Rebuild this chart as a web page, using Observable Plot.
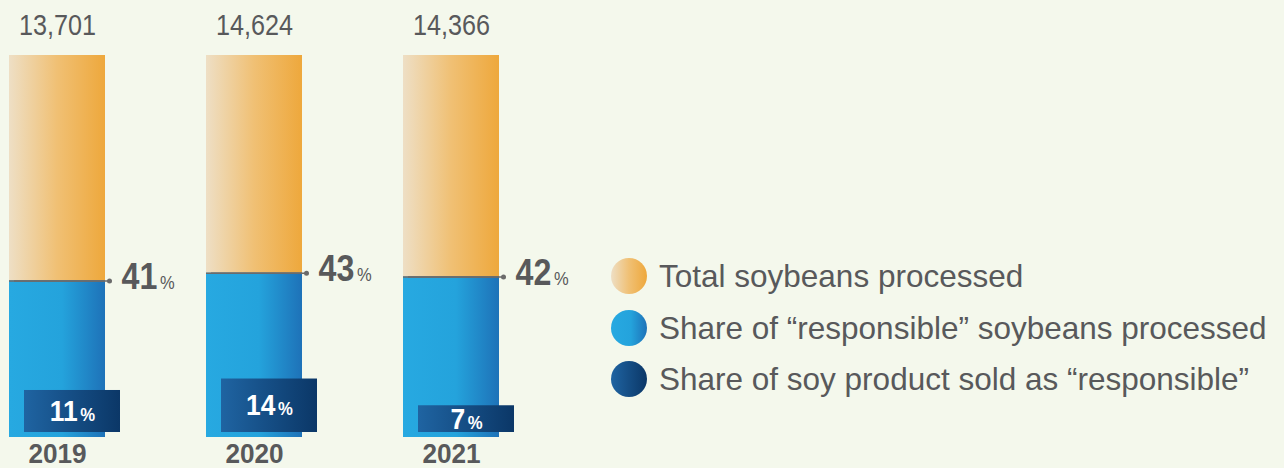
<!DOCTYPE html>
<html><head><meta charset="utf-8">
<script src="https://cdn.jsdelivr.net/npm/d3@7"></script>
<script src="https://cdn.jsdelivr.net/npm/@observablehq/plot@0.6"></script>
<style>
html,body{margin:0;padding:0;background:#F4F8EC;width:1284px;height:468px;overflow:hidden;}
#wrap{position:relative;width:1284px;height:468px;}
#chart{position:absolute;left:0;top:0;}
.legend{position:absolute;left:611px;top:0;font-family:"Liberation Sans",Arial,sans-serif;font-size:31.5px;color:#58595B;}
.row{position:absolute;left:0;display:flex;align-items:center;white-space:nowrap;height:40px;}
.sw{width:36px;height:36px;border-radius:50%;margin-right:12px;flex:none;}
</style></head>
<body><div id="wrap"><div id="chart"></div><div class="legend" id="legend"></div></div>
<script>
const years = ["2019", "2020", "2021"];
const totals = [13701, 14624, 14366];
const responsibleShare = [41, 43, 42];
const soldShare = [11, 14, 7];
const legendLabels = [
  "Total soybeans processed",
  "Share of \u201cresponsible\u201d soybeans processed",
  "Share of soy product sold as \u201cresponsible\u201d"
];

const data = years.map((y, i) => ({year: y, total: totals[i], resp: responsibleShare[i], sold: soldShare[i]}));
const FONT = '"Liberation Sans",Arial,sans-serif';
const GRAY = "#58595B";
const LINE = "#6b6b6b";

const plot = Plot.plot({
  width: 600, height: 468,
  marginTop: 0, marginBottom: 0, marginLeft: 0, marginRight: 0,
  style: {background: "transparent", fontFamily: FONT},
  x: {type: "band", domain: years, range: [8, 500], paddingInner: 0.515, paddingOuter: 0, axis: null},
  y: {domain: [0, 100], range: [437, 55], axis: null},
  marks: [
    Plot.barY(data, {x: "year", y1: 0, y2: 100, fill: "url(#gOrange)"}),
    Plot.barY(data, {x: "year", y1: 0, y2: "resp", fill: "url(#gBlue)"}),
    Plot.tickY(data, {x: "year", y: "resp", stroke: LINE, strokeWidth: 1.5}),
    Plot.tickY(data, {x: "year", y: "resp", stroke: LINE, strokeWidth: 1.5, dx: 5}),
    Plot.dot(data, {x: "year", y: "resp", dx: 52, r: 2.5, fill: LINE, stroke: null}),
    Plot.barY(data, {x: "year", y1: 0, y2: "sold", dx: 15, dy: -5, fill: "url(#gDark)"}),
    Plot.text(data, {x: "year", y: d => d.sold / 2, dx: 15, dy: -5, text: d => d.sold + "%",
      fill: "white", fontWeight: "bold", fontSize: 30, lineAnchor: "middle", ariaDescription: "boxLabel"}),
    Plot.text(data, {x: "year", y: "resp", dx: 64, dy: 8, text: d => d.resp + "%", textAnchor: "start",
      fill: GRAY, fontWeight: "bold", fontSize: 37, lineAnchor: "bottom", ariaDescription: "shareLabel"}),
    Plot.text(data, {x: "year", y: 100, dy: -21, text: d => d3.format(",")(d.total),
      fill: GRAY, fontSize: 30, lineAnchor: "bottom", ariaDescription: "totalLabel"}),
    Plot.text(data, {x: "year", y: 0, dy: 25, text: "year",
      fill: GRAY, fontWeight: "bold", fontSize: 27, lineAnchor: "bottom", ariaDescription: "yearLabel"})
  ]
});

// gradients
const svg = d3.select(plot);
const defs = svg.insert("defs", ":first-child");
function grad(id, stops) {
  const g = defs.append("linearGradient").attr("id", id).attr("x1", "0").attr("x2", "1").attr("y1", "0").attr("y2", "0");
  stops.forEach(([o, c]) => g.append("stop").attr("offset", o).attr("stop-color", c));
}
const orangeStops = [[0, "#EEDFC5"], [0.5, "#F0C074"], [1, "#EEA83C"]];
const blueStops = [[0, "#27A9E1"], [0.55, "#24A3DC"], [1, "#1E72B8"]];
const darkStops = [[0, "#1F64A2"], [1, "#0B3767"]];
grad("gOrange", orangeStops);
grad("gBlue", blueStops);
grad("gDark", darkStops);

// smaller % sign
function splitPct(desc, pctSize, pctWeight) {
  svg.selectAll(`g[aria-description="${desc}"] text`).each(function () {
    const t = d3.select(this);
    const s = t.text();
    const num = s.replace("%", "");
    t.text(null);
    t.append("tspan").text(num);
    t.append("tspan").attr("font-size", pctSize).attr("font-weight", pctWeight).attr("dx", 3).text("%");
  });
}
splitPct("boxLabel", 19, "bold");
splitPct("shareLabel", 19, "normal");

// horizontally condensed lettering like the original
function condense(desc, k) {
  svg.selectAll(`g[aria-description="${desc}"] text`).each(function () {
    const t = d3.select(this);
    const tr = t.attr("transform") || "";
    t.attr("transform", tr + ` scale(${k},1)`);
  });
}
condense("boxLabel", 0.88);
condense("shareLabel", 0.87);
condense("totalLabel", 0.84);
condense("yearLabel", 0.97);

document.getElementById("chart").appendChild(plot);

// legend
const css = st => `linear-gradient(to right, ${st.map(([o, c]) => `${c} ${o * 100}%`).join(", ")})`;
const swatches = [orangeStops, blueStops, darkStops];
const centers = [276, 328, 379];
const leg = d3.select("#legend");
legendLabels.forEach((lab, i) => {
  const row = leg.append("div").attr("class", "row").style("top", (centers[i] - 20) + "px");
  row.append("div").attr("class", "sw").style("background", css(swatches[i]));
  row.append("span").text(lab);
});
</script>
</body></html>
